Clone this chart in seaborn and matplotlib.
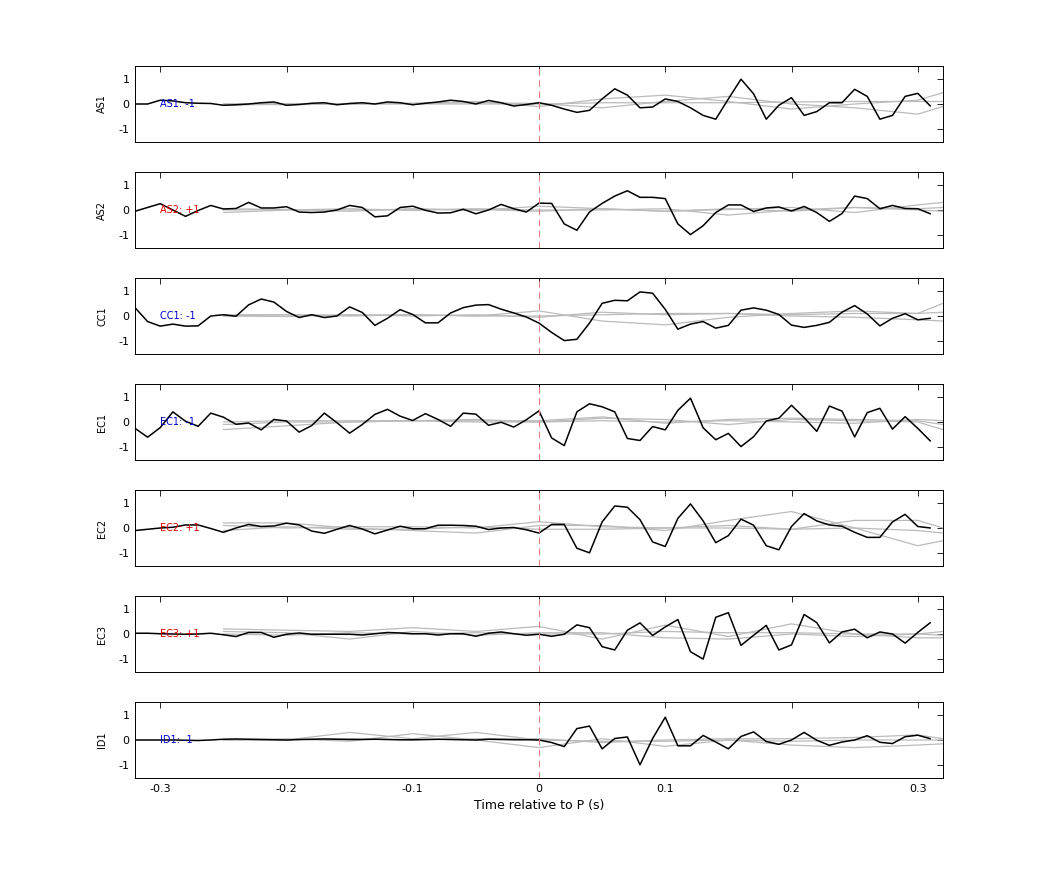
import numpy as np
import pandas as pd
import matplotlib
matplotlib.use("Agg")
import matplotlib.pyplot as plt
import seaborn as sns

stations = ["AS1", "AS2", "CC1", "EC1", "EC2", "EC3", "ID1"]
polarity = ["-1", "+1", "-1", "-1", "+1", "+1", "-1"]
pol_colors = ["#0000cc", "#dd0000", "#0000cc", "#0000cc", "#dd0000", "#dd0000", "#0000cc"]

AS1 = [0, 0, 0.15, 0.12, 0.05, 0.03, 0.02, -0.05, -0.03, 0, 0.05, 0.08, -0.05, -0.02, 0.03, 0.05,
       -0.03, 0.02, 0.05, 0.0, 0.08, 0.05, -0.03, 0.03, 0.08, 0.15, 0.1, 0.0, 0.14, 0.05, -0.08, -0.02, 0.05,
       -0.05, -0.2, -0.33, -0.25, 0.2, 0.6, 0.35, -0.15, -0.12, 0.2, 0.1, -0.15, -0.45, -0.6, 0.2, 0.98,
       0.4, -0.6, -0.05, 0.25, -0.45, -0.3, 0.05, 0.05, 0.58, 0.3, -0.6, -0.45, 0.3, 0.42, -0.08]
AS2 = [-0.05, 0.1, 0.25, 0.0, -0.25, -0.02, 0.18, 0.04, 0.06, 0.3, 0.08, 0.08, 0.13, -0.08, -0.1, -0.08,
       0.0, 0.18, 0.1, -0.27, -0.23, 0.1, 0.15, -0.01, -0.12, -0.11, 0.03, -0.15, 0.0, 0.22, 0.05, -0.08, 0.27,
       0.26, -0.55, -0.8, -0.08, 0.26, 0.55, 0.76, 0.5, 0.5, 0.45, -0.55, -0.97, -0.62, -0.1, 0.2, 0.2,
       -0.06, 0.08, 0.12, -0.04, 0.14, -0.1, -0.45, -0.14, 0.55, 0.45, 0.05, 0.18, 0.06, 0.05, -0.15]
CC1 = [0.33, -0.22, -0.4, -0.32, -0.4, -0.39, 0.0, 0.05, -0.01, 0.44, 0.67, 0.55, 0.18, -0.06, 0.05, -0.06,
       0.0, 0.36, 0.14, -0.37, -0.09, 0.25, 0.06, -0.27, -0.27, 0.12, 0.33, 0.43, 0.45, 0.27, 0.12, -0.04, -0.28,
       -0.65, -0.97, -0.92, -0.28, 0.5, 0.62, 0.6, 0.95, 0.9, 0.26, -0.52, -0.32, -0.22, -0.48, -0.37, 0.23,
       0.32, 0.23, 0.06, -0.36, -0.45, -0.37, -0.25, 0.15, 0.41, 0.08, -0.39, -0.09, 0.09, -0.15, -0.09]
EC1 = [-0.25, -0.6, -0.22, 0.4, 0.03, -0.17, 0.35, 0.19, -0.09, -0.04, -0.31, 0.1, 0.04, -0.4, -0.14, 0.35,
       -0.03, -0.44, -0.1, 0.3, 0.5, 0.23, 0.06, 0.33, 0.1, -0.17, 0.35, 0.31, -0.13, -0.01, -0.2, 0.09, 0.44,
       -0.63, -0.93, 0.4, 0.72, 0.6, 0.4, -0.65, -0.73, -0.18, -0.31, 0.46, 0.94, -0.23, -0.7, -0.45, -0.97,
       -0.58, 0.04, 0.15, 0.66, 0.17, -0.37, 0.63, 0.43, -0.59, 0.37, 0.54, -0.28, 0.21, -0.25, -0.75]
EC2 = [-0.1, -0.05, 0.0, 0.03, 0.12, 0.12, -0.02, -0.17, 0.0, 0.14, 0.06, 0.08, 0.19, 0.12, -0.12, -0.21,
       -0.05, 0.1, -0.04, -0.23, -0.08, 0.07, -0.03, -0.03, 0.11, 0.11, 0.1, 0.07, -0.06, 0.0, 0.02, -0.07, -0.2,
       0.14, 0.14, -0.8, -0.98, 0.24, 0.87, 0.82, 0.33, -0.55, -0.73, 0.38, 0.95, 0.28, -0.58, -0.3, 0.35,
       0.11, -0.7, -0.86, 0.06, 0.57, 0.28, 0.12, 0.07, -0.17, -0.37, -0.37, 0.24, 0.54, 0.06, 0.0]
EC3 = [0.03, 0.03, 0.01, 0.0, -0.01, 0.0, 0.03, -0.03, -0.1, 0.06, 0.06, -0.13, -0.01, 0.04, -0.01, -0.01,
       -0.01, -0.01, -0.04, 0.01, 0.06, 0.04, 0.01, 0.01, -0.04, 0.01, 0.01, -0.09, 0.03, 0.08, 0.01, -0.05, -0.01,
       -0.09, -0.01, 0.36, 0.25, -0.5, -0.63, 0.15, 0.44, -0.06, 0.28, 0.57, -0.7, -0.99, 0.66, 0.84, -0.45,
       -0.05, 0.34, -0.63, -0.43, 0.77, 0.45, -0.35, 0.08, 0.19, -0.15, 0.08, 0.0, -0.36, 0.06, 0.45]
ID1 = [0, 0, 0, 0, -0.01, -0.02, 0, 0.03, 0.04, 0.03, 0.02, 0.01, 0, 0.02, 0.03, 0.04,
       0.03, 0.02, 0.02, 0.03, 0.02, 0.01, 0.01, 0.02, 0.03, 0.02, 0.01, 0, 0.03, 0.02, 0.01, 0.01, 0.0,
       -0.1, -0.26, 0.45, 0.55, -0.35, 0.06, 0.12, -0.98, 0.06, 0.9, -0.23, -0.23, 0.18, -0.08, -0.35, 0.14,
       0.32, -0.06, -0.17, 0.0, 0.3, -0.01, -0.21, -0.08, 0.0, 0.17, -0.09, -0.14, 0.13, 0.19, 0.05]
traces = [AS1, AS2, CC1, EC1, EC2, EC3, ID1]

# grey synthetic traces, sampled every 0.05 s from -0.25 s to 0.30 s, plus 0.32 s
grey_t = [-0.25, -0.2, -0.15, -0.1, -0.05, 0.0, 0.05, 0.1, 0.15, 0.2, 0.25, 0.3, 0.32]
greys = [
    [[0, 0.02, 0, 0.03, 0.1, -0.1, 0.2, 0.35, 0.1, -0.2, 0.0, 0.15, 0.45],
     [0, -0.03, 0, 0.02, 0.05, 0.02, -0.15, 0.1, 0.3, 0.0, -0.15, -0.4, -0.1],
     [-0.05, 0, 0.02, 0, 0.0, 0.0, 0.05, 0.05, 0.05, 0.08, 0.1, 0.1, 0.1]],
    [[0, 0.02, -0.05, 0.05, -0.02, 0.15, 0.05, -0.05, 0.02, 0.1, -0.1, 0.2, 0.3],
     [-0.1, 0, 0.05, -0.02, 0.05, 0.0, 0.0, 0.05, -0.2, 0.0, 0.1, 0.05, 0.1],
     [0.05, 0.02, 0.0, 0.03, 0.02, -0.05, 0.05, -0.05, 0.05, -0.05, 0.1, 0.0, -0.05]],
    [[0, 0.05, 0.03, 0.05, 0.0, 0.2, -0.2, -0.35, -0.05, 0.1, 0.2, 0.1, 0.5],
     [0, -0.02, 0.05, 0.0, 0.05, -0.05, 0.15, 0.05, 0.1, 0.0, -0.05, -0.15, -0.2],
     [0.05, 0.05, 0.0, 0.05, 0.0, 0.0, 0.05, 0.1, 0.1, 0.05, 0.1, 0.1, 0.15]],
    [[-0.3, -0.15, 0.0, 0.05, 0.1, 0.0, 0.15, 0.1, -0.1, 0.1, 0.05, 0.0, -0.3],
     [0.0, 0.05, 0.05, 0.05, 0.05, 0.05, 0.2, -0.05, 0.1, 0.15, 0.1, 0.05, -0.1],
     [-0.1, 0.0, 0.0, 0.05, 0.0, 0.0, 0.05, 0.0, 0.05, 0.0, -0.05, 0.1, 0.05]],
    [[0.2, 0.2, 0.0, -0.1, -0.2, 0.1, 0.1, -0.1, 0.3, 0.65, 0.0, -0.7, -0.5],
     [0.1, 0.0, 0.05, 0.05, 0.0, 0.25, 0.05, 0.0, 0.1, -0.05, 0.3, 0.3, 0.0],
     [-0.1, 0.05, -0.05, -0.05, 0.05, -0.05, -0.05, 0.0, 0.0, -0.05, 0.0, -0.1, -0.2]],
    [[0.2, 0.15, 0.1, 0.25, 0.1, 0.3, -0.2, 0.35, -0.1, 0.4, 0.0, -0.15, -0.15],
     [0.1, 0.05, -0.2, 0.1, -0.05, 0.05, 0.05, -0.15, -0.2, 0.0, -0.1, 0.0, 0.1],
     [0.0, -0.05, 0.05, 0.0, 0.05, 0.0, 0.0, 0.1, 0.05, 0.05, 0.0, 0.0, -0.05]],
    [[0.0, 0.0, 0.3, 0.05, 0.3, 0.0, -0.05, -0.05, 0.0, -0.05, 0.0, 0.0, 0.0],
     [0.0, 0.05, -0.05, 0.25, 0.0, -0.3, 0.05, -0.25, 0.0, -0.2, -0.3, -0.2, -0.15],
     [0.0, 0.0, 0.05, 0.0, 0.05, 0.05, -0.1, 0.0, 0.05, 0.05, 0.1, 0.2, 0.05]],
]

xticks = [-0.3, -0.2, -0.1, 0, 0.1, 0.2, 0.3]
xticklabels = ["-0.3", "-0.2", "-0.1", "0", "0.1", "0.2", "0.3"]

sns.set_theme(style="white")
plt.rcParams['font.family'] = ['DejaVu Sans']
plt.rcParams['text.color'] = 'black'
plt.rcParams['axes.labelcolor'] = 'black'
plt.rcParams['xtick.color'] = 'black'
plt.rcParams['ytick.color'] = 'black'
fig = plt.figure(figsize=(10.42, 8.75), dpi=100)
W, H = 1042, 875
left, right = 135 / W, 943 / W
tops = [66, 172, 278, 384, 490, 596, 702]
for k, (name, tr) in enumerate(zip(stations, traces)):
    ax = fig.add_axes([left, 1 - (tops[k] + 76) / H, right - left, 76 / H])
    for g in greys[k]:
        ax.plot(grey_t, g, color="#bbbbbb", lw=0.9)
    t = np.round(-0.32 + 0.01 * np.arange(len(tr)), 3)
    df = pd.DataFrame({"t": t, "v": tr})
    sns.lineplot(data=df, x="t", y="v", ax=ax, color="black", lw=1.1)
    ax.axvline(0, color="#e08080", lw=0.8, ls=(0, (6, 4)))
    ax.set_xlim(-0.32, 0.32)
    ax.set_ylim(-1.5, 1.5)
    ax.set_yticks([-1, 0, 1])
    ax.set_yticklabels(["-1", "0", "1"], fontsize=8)
    ax.set_xticks(xticks)
    if k == 6:
        ax.set_xticklabels(xticklabels, fontsize=8)
        ax.set_xlabel("Time relative to P (s)", fontsize=9)
    else:
        ax.set_xticklabels([])
        ax.set_xlabel("")
    ax.set_ylabel(name, fontsize=7, labelpad=8)
    ax.tick_params(direction="in", top=True, right=True, length=4, width=0.6, pad=4)
    for s in ax.spines.values():
        s.set_color("black")
        s.set_linewidth(0.7)
    ax.text(-0.30, 0, f"{name}: {polarity[k]}", color=pol_colors[k], fontsize=7, va="center")
fig.savefig("out.png", dpi=100)
